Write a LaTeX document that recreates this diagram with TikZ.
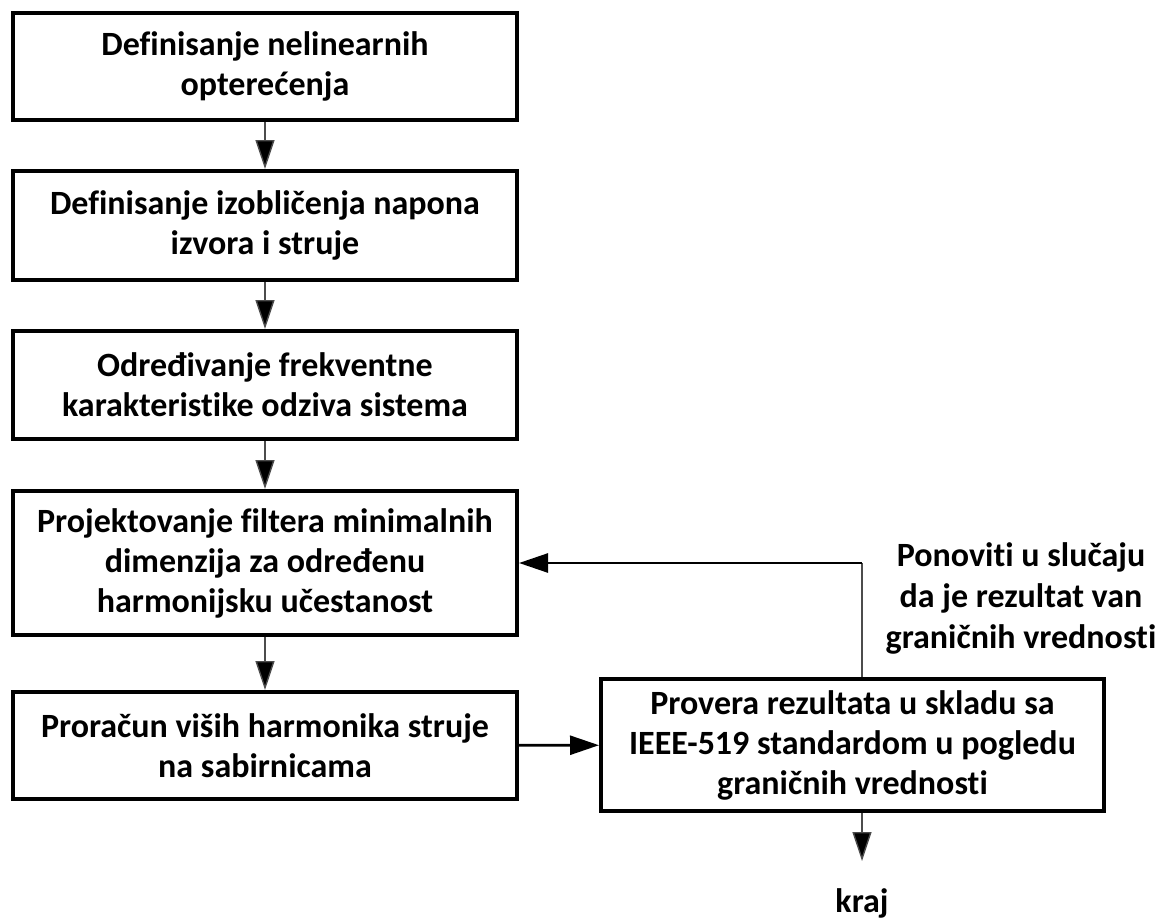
\documentclass[tikz,border=0pt]{standalone}
\usepackage{fontspec}
\setmainfont{Carlito}[RawFeature={-liga;-clig;-calt;-dlig}]
\usetikzlibrary{arrows.meta}
\begin{document}
\begin{tikzpicture}[x=1pt,y=-1pt,
  box/.style={draw=black, line width=4pt, minimum width=504pt, align=center, inner sep=0pt,
    font=\fontsize{34}{40}\selectfont\bfseries},
  vline/.style={draw=black!70, line width=1.4pt, -{Triangle[length=29pt,width=19pt,fill=black]}},
  hline/.style={draw=black, line width=2.6pt, -{Triangle[length=29pt,width=19pt]}},
  thin/.style={draw=black!70, line width=1.4pt},
  lbl/.style={align=center, font=\fontsize{34}{41}\selectfont\bfseries}]
\useasboundingbox (0,0) rectangle (1162,921);
\node[box, minimum height=107pt] (b1) at (265,66.5) {Definisanje nelinearnih\\opterećenja};
\node[box, minimum height=109pt] (b2) at (265,225.5) {Definisanje izobličenja napona\\izvora i struje};
\node[box, minimum height=108pt] (b3) at (265,385) {Određivanje frekventne\\karakteristike odziva sistema};
\node[box, minimum height=144pt] (b4) at (265,563) {Projektovanje filtera minimalnih\\dimenzija za određenu\\harmonijsku učestanost};
\node[box, minimum height=107pt] (b5) at (265,745.5) {Proračun viših harmonika struje\\na sabirnicama};
\node[box, minimum width=503pt, minimum height=132pt] (b6) at (852.5,745) {Provera rezultata u skladu sa\\IEEE-519 standardom u pogledu\\graničnih vrednosti};
\node[lbl] (lab) at (1021,598) {Ponoviti u slučaju\\da je rezultat van\\graničnih vrednosti};
\node[lbl, anchor=base] (kraj) at (862,912) {kraj};
\coordinate (fbx) at (862,0);
\coordinate (endtip) at (862,861);
\draw[vline] (b1) -- (b2);
\draw[vline] (b2) -- (b3);
\draw[vline] (b3) -- (b4);
\draw[vline] (b4) -- (b5);
\draw[hline] (b5) -- (b6);
\draw[thin] (b6.north -| fbx) -- (fbx |- b4.east);
\draw[hline] (fbx |- b4.east) -- (b4.east);
\draw[vline] (b6.south -| fbx) -- (endtip);
\end{tikzpicture}
\end{document}
